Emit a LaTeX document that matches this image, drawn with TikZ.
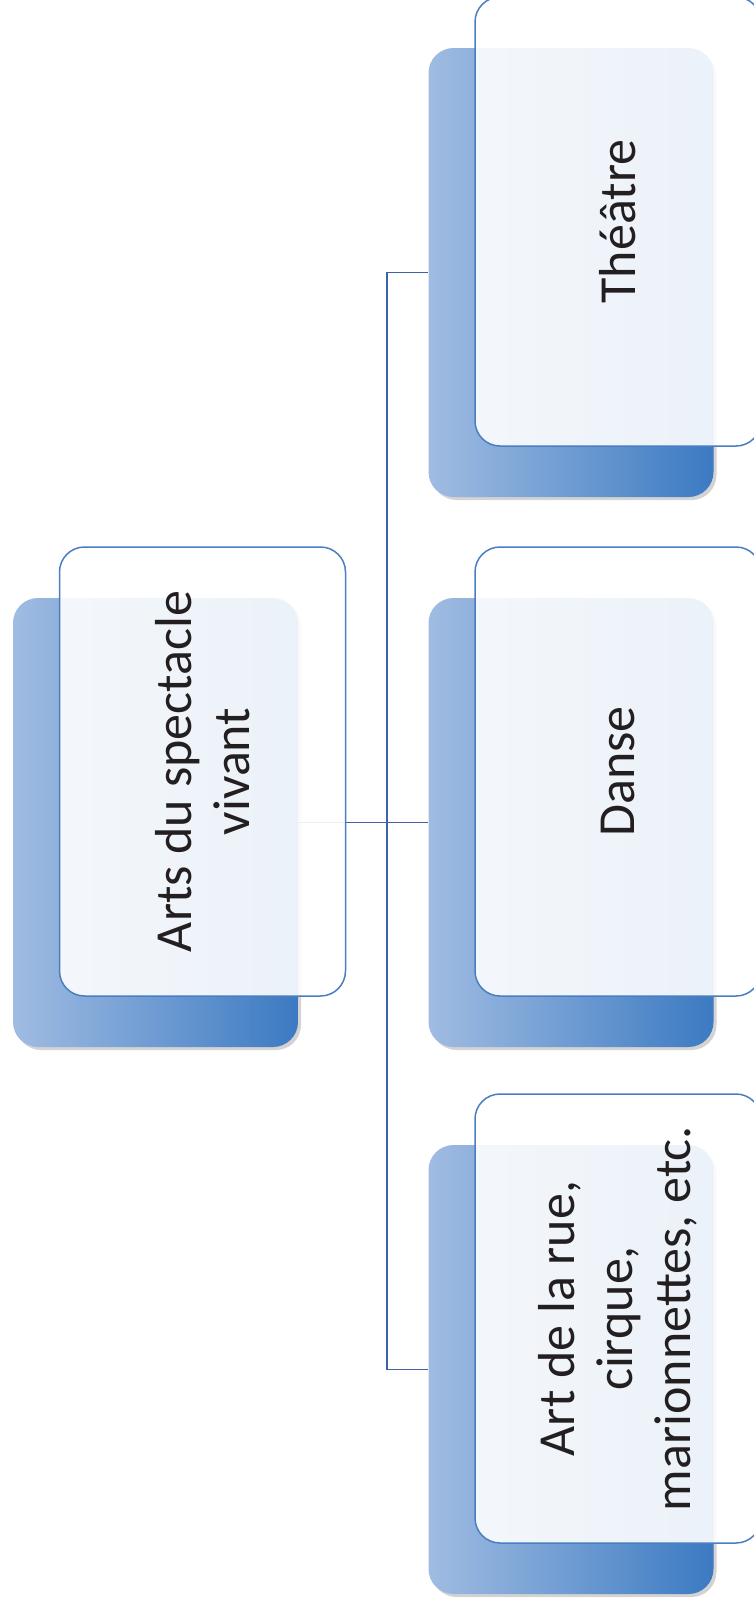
\documentclass[tikz,border=0pt]{standalone}
\usepackage{fontspec}
\setmainfont{Carlito}
\usetikzlibrary{shadows}
\definecolor{backlight}{RGB}{160,188,226}
\definecolor{backmid}{RGB}{138,174,219}
\definecolor{backdark}{RGB}{60,122,194}
\definecolor{frontline}{RGB}{74,126,193}
\definecolor{linkblue}{RGB}{59,100,168}
\definecolor{textdark}{RGB}{35,31,32}
\tikzset{backbox/.style={rectangle,rounded corners=25pt,minimum width=285pt,minimum height=449pt,inner sep=0pt,left color=backlight,middle color=backmid,right color=backdark,drop shadow={opacity=0.35,shadow xshift=3pt,shadow yshift=-3pt}}}
\tikzset{frontbox/.style={rectangle,rounded corners=25pt,minimum width=449pt,minimum height=286pt,inner sep=0pt,rotate=90,draw=frontline,line width=1.5pt,fill=white,fill opacity=0.9,text opacity=1,text=textdark,align=center,font=\fontsize{52}{58}\selectfont}}
\tikzset{link/.style={linkblue,line width=1.5pt}}

\begin{document}
\begin{tikzpicture}[x=1pt,y=-1pt]
        \useasboundingbox (0,0) rectangle (754,1604);
        \clip (0,0) rectangle (754,1604);
        \node[backbox] (rootb) at (155.5,822.5) {};
        \node[backbox] (theatreb) at (571,272.5) {};
        \node[backbox] (danseb) at (571,822.5) {};
        \node[backbox] (rueb) at (571,1369.5) {};
        \coordinate (bus) at (387,822.5);
        \draw[link] (rootb.east) -- (bus);
        \draw[link] (bus) |- (theatreb.west);
        \draw[link] (bus) |- (danseb.west);
        \draw[link] (bus) |- (rueb.west);
        \node[frontbox] (root) at ([xshift=47pt,yshift=51pt]rootb.center) {Arts du spectacle\\vivant};
        \node[frontbox] (theatre) at ([xshift=47pt,yshift=51pt]theatreb.center) {Théâtre};
        \node[frontbox] (danse) at ([xshift=47pt,yshift=51pt]danseb.center) {Danse};
        \node[frontbox] (rue) at ([xshift=47pt,yshift=51pt]rueb.center) {Art de la rue,\\cirque,\\marionnettes, etc.};
    \end{tikzpicture}
\end{document}
